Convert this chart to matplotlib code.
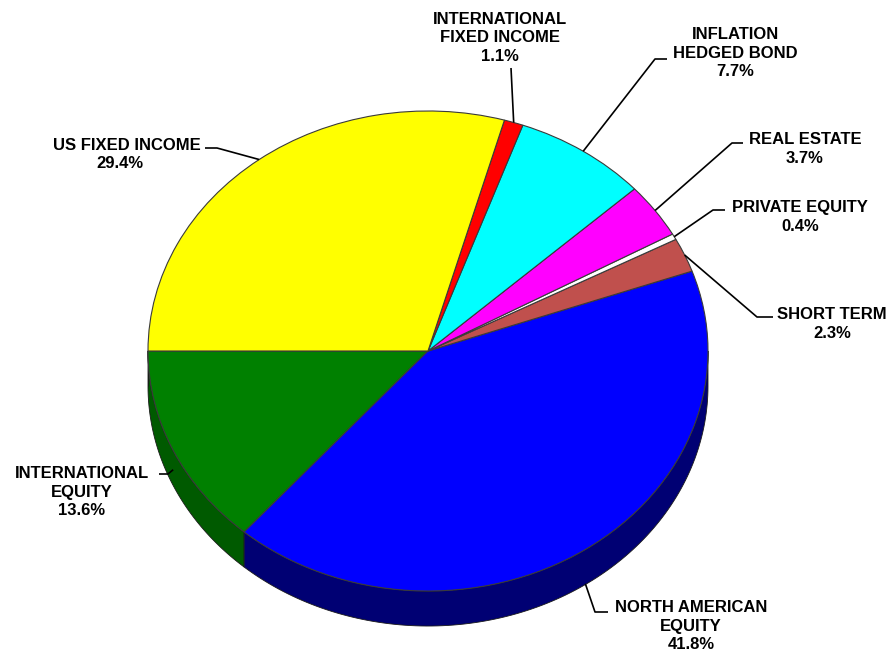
import numpy as np
import matplotlib
matplotlib.use('Agg')
import matplotlib.pyplot as plt
from matplotlib.patches import Polygon

labels = ['INTERNATIONAL\nEQUITY', 'NORTH AMERICAN\nEQUITY', 'SHORT TERM',
          'PRIVATE EQUITY', 'REAL ESTATE', 'INFLATION\nHEDGED BOND',
          'INTERNATIONAL\nFIXED INCOME', 'US FIXED INCOME']
values = [13.6, 41.8, 2.3, 0.4, 3.7, 7.7, 1.1, 29.4]
colors = ['#008000', '#0000FF', '#C0504D', '#FFFFFF', '#FF00FF', '#00FFFF',
          '#FF0000', '#FFFF00']
side_colors = ['#005A00', '#000073', '#7a2f2d', '#bbbbbb', '#990099', '#009999',
               '#990000', '#999900']

# layout in pixels of the reference picture
CX, CY, RX, RY = 428, 351, 280, 240
DEPTH = 0.146  # side height in y data units


def px(x, y):
    return (x - CX) / RX, (CY - y) / RY


# label text centre, elbow points (pixels) and where the leader touches
label_pos = [(82, 492), (691, 626), (832, 324), (800, 217), (805, 149),
             (735, 53), (500, 38), None]
elbows = [[(168, 474), (159, 474)], [(595, 612), (608, 612)],
          [(757, 317), (773, 317)], [(713, 210), (725, 210)],
          [(732, 143), (743, 143)], [(655, 59), (667, 59)],
          [(511, 68)], [(217, 148), (205, 148)]]
side_frac = [0.55, 0.98, 0, 0, 0, 0, 0, 0]

plt.rcParams['font.family'] = ['Liberation Sans', 'DejaVu Sans']

fig = plt.figure(figsize=(8.88, 6.56), dpi=100)
ax = fig.add_axes([0, 0, 1, 1])

wedges, _ = ax.pie(values, colors=colors, startangle=180, counterclock=True,
                   wedgeprops=dict(edgecolor='#3a3a3a', linewidth=0.8, zorder=2))

# side walls of the 3D pie (front half only)
for w, sc in zip(wedges, side_colors):
    for lo, hi in [(180, 360), (540, 720)]:
        a = max(w.theta1, lo)
        b = min(w.theta2, hi)
        if b <= a:
            continue
        t = np.radians(np.linspace(a, b, 120))
        xs = np.concatenate([np.cos(t), np.cos(t[::-1])])
        ys = np.concatenate([np.sin(t), np.sin(t[::-1]) - DEPTH])
        ax.add_patch(Polygon(np.column_stack([xs, ys]), closed=True,
                             facecolor=sc, edgecolor='#1a1a1a',
                             linewidth=0.6, zorder=1))

ax.set_aspect('auto')
ax.set_xlim(-CX / RX, (888 - CX) / RX)
ax.set_ylim((CY - 656) / RY, CY / RY)
ax.axis('off')

# leader lines
for i, w in enumerate(wedges):
    mid = np.radians((w.theta1 + w.theta2) / 2)
    pts = [(np.cos(mid), np.sin(mid) - side_frac[i] * DEPTH)]
    pts += [px(*p) for p in elbows[i]]
    pts = np.array(pts)
    ax.plot(pts[:, 0], pts[:, 1], color='black', lw=1.2, zorder=3,
            solid_capstyle='butt')

# labels
for i, (lab, v) in enumerate(zip(labels, values)):
    if label_pos[i] is None:
        continue
    x, y = px(*label_pos[i])
    ax.text(x, y, f'{lab}\n{v:.1f}%', ha='center', va='center',
            fontsize=12, fontweight='bold', linespacing=1.32, zorder=4)

# US fixed income label is laid out differently
x, y = px(201, 146)
ax.text(x, y, labels[7], ha='right', va='center', fontsize=12,
        fontweight='bold', zorder=4)
x, y = px(120, 164)
ax.text(x, y, f'{values[7]:.1f}%', ha='center', va='center', fontsize=12,
        fontweight='bold', zorder=4)

fig.savefig('out.png', dpi=100, facecolor='white')
